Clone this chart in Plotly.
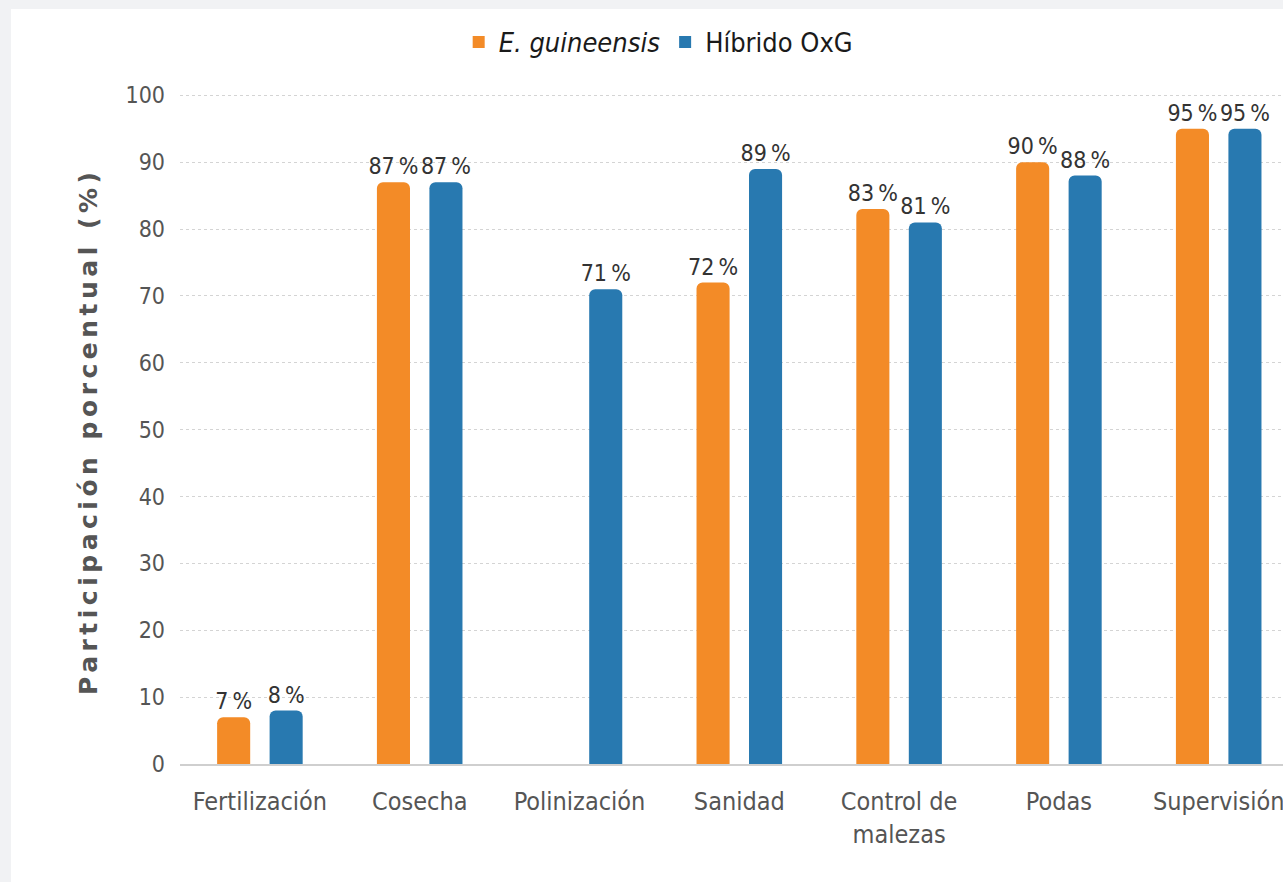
import plotly.graph_objects as go

# Participation by activity and palm material
categorias = ["Fertilización", "Cosecha", "Polinización", "Sanidad",
              "Control de<br>malezas", "Podas", "Supervisión"]
e_guineensis = [7, 87, None, 72, 83, 90, 95]
hibrido_oxg = [8, 87, 71, 89, 81, 88, 95]
y_ticks = [0, 10, 20, 30, 40, 50, 60, 70, 80, 90, 100]

NARANJA = "#F38B27"
AZUL = "#2879B0"
FUENTE = "Liberation Sans Narrow, DejaVu Sans Condensed, Roboto, sans-serif"

L, R, T, B = 180, 0, 82, 118
W, H = 1283, 882
PW, PH = W - L - R, H - T - B
PASO = 159.8  # px per category


def etiquetas(vals):
    return [f"{v}\u2009%" if v is not None else "" for v in vals]


fig = go.Figure()
for nombre, vals, color in [("<i>E. guineensis</i>", e_guineensis, NARANJA),
                            ("Híbrido OxG", hibrido_oxg, AZUL)]:
    fig.add_trace(go.Bar(
        x=categorias, y=vals, name=nombre,
        marker=dict(color=color, cornerradius=6, line=dict(width=0)),
        text=etiquetas(vals), textposition="outside", constraintext="none",
        textfont=dict(family=FUENTE, size=23, color="#333333"),
        cliponaxis=False, showlegend=False,
    ))

# legend entries
for nombre, color in [("<i>E. guineensis</i>", NARANJA), ("Híbrido OxG", AZUL)]:
    fig.add_trace(go.Scatter(
        x=[None], y=[None], mode="markers", name=nombre,
        marker=dict(symbol="square", size=30, color=color),
    ))

fig.update_layout(
    width=W, height=H,
    margin=dict(l=L, r=R, t=T, b=B),
    paper_bgcolor="white", plot_bgcolor="white",
    barmode="group", bargap=0.343, bargroupgap=0.37,
    font=dict(family=FUENTE, color="#555555"),
    legend=dict(
        orientation="h", xref="container", yref="container",
        x=0.513, xanchor="center", y=0.952, yanchor="middle",
        font=dict(family=FUENTE, size=27, color="#1a1a1a"),
        itemsizing="constant", itemwidth=30,
    ),
    xaxis=dict(
        range=[-0.5, -0.5 + PW / PASO],
        showgrid=False, showline=True, linecolor="#cfcfcf", linewidth=2,
        ticks="", tickfont=dict(family=FUENTE, size=25, color="#555555"),
        ticklabelstandoff=14, zeroline=False,
    ),
    yaxis=dict(
        range=[0, 102], tickvals=y_ticks, showline=False, zeroline=False,
        showgrid=True, gridcolor="#d4d4d4", griddash="dot", gridwidth=1,
        ticks="", tickfont=dict(family=FUENTE, size=23, color="#555555"),
        ticklabelstandoff=14,
    ),
    annotations=[
        dict(text="Participación porcentual (%)", textangle=-90,
             xref="paper", yref="paper", x=(88 - L) / PW, y=(764 - 432) / PH,
             xanchor="center", yanchor="middle", showarrow=False,
             font=dict(family="DejaVu Sans", size=25, color="#555555", weight="bold")),
    ],
    shapes=[
        # grey frame around the white card
        dict(type="rect", xref="paper", yref="paper", layer="below",
             x0=-L / PW, x1=(-L + 11) / PW, y0=-B / PH, y1=(PH + T) / PH,
             fillcolor="#f1f2f4", line=dict(width=0)),
        dict(type="rect", xref="paper", yref="paper", layer="below",
             x0=-L / PW, x1=1.0, y0=(PH + T - 9) / PH, y1=(PH + T) / PH,
             fillcolor="#f1f2f4", line=dict(width=0)),
    ],
)

# wide letter spacing on the y-axis title
espaciado = """
document.querySelectorAll('.annotation-text').forEach(function (t) {
    t.style.letterSpacing = '4.5px';
});
"""

fig.write_html("out.html", post_script=espaciado)
